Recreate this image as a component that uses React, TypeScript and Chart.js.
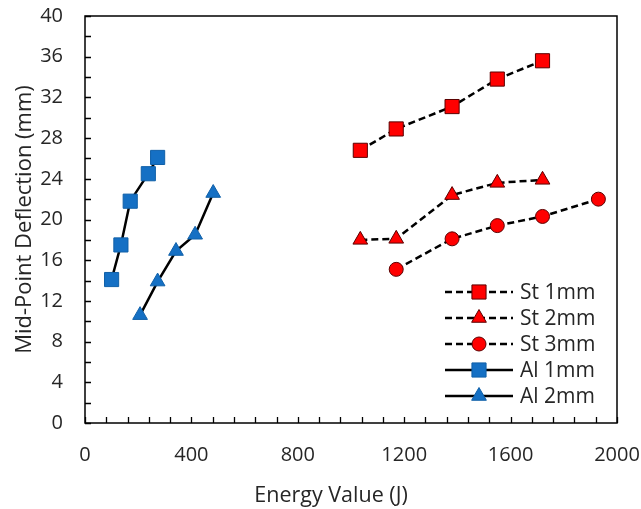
import React, { useEffect, useRef } from "react";
import { Chart, registerables } from "chart.js";

Chart.register(...registerables);

// ---- data ----
const stX = [1035, 1170, 1380, 1550, 1720];
const st1Y = [26.8, 28.9, 31.1, 33.8, 35.6];
const st2Y = [18.0, 18.1, 22.4, 23.6, 23.9];
const st3X = [1170, 1380, 1550, 1720, 1930];
const st3Y = [15.1, 18.1, 19.4, 20.3, 22.0];
const al1X = [100, 135, 170, 238, 273];
const al1Y = [14.1, 17.5, 21.8, 24.5, 26.1];
const al2X = [207, 273, 342, 414, 482];
const al2Y = [10.6, 13.9, 16.9, 18.5, 22.6];

const seriesNames = ["St 1mm", "St 2mm", "St 3mm", "Al 1mm", "Al 2mm"];
const xTitle = "Energy Value (J)";
const yTitle = "Mid-Point Deflection (mm)";
const xTicksMajor = 400;
const yTicksMajor = 4;

const FONT = "'Open Sans', sans-serif";
const TEXT = "#262626";
const RED = "#FF0000";
const RED_EDGE = "#5a0000";
const BLUE = "#1570C4";
const BLUE_EDGE = "#1060A8";

const pts = (xs: number[], ys: number[]) => xs.map((x, i) => ({ x, y: ys[i] }));

function drawMarker(ctx: CanvasRenderingContext2D, style: string, x: number, y: number, r: number) {
  ctx.beginPath();
  if (style === "rect") {
    const s = Math.SQRT1_2 * r;
    ctx.rect(x - s, y - s, 2 * s, 2 * s);
  } else if (style === "triangle") {
    let a = 0;
    ctx.moveTo(x + Math.sin(a) * r, y - Math.cos(a) * r);
    a += (2 * Math.PI) / 3;
    ctx.lineTo(x + Math.sin(a) * r, y - Math.cos(a) * r);
    a += (2 * Math.PI) / 3;
    ctx.lineTo(x + Math.sin(a) * r, y - Math.cos(a) * r);
    ctx.closePath();
  } else {
    ctx.arc(x, y, r, 0, Math.PI * 2);
  }
  ctx.fill();
  ctx.stroke();
}

const framePlugin = {
  id: "frameTicks",
  beforeDatasetsDraw(chart: any) {
    const { ctx, chartArea: a, scales } = chart;
    ctx.save();
    ctx.strokeStyle = "#000";
    ctx.lineWidth = 1.5;
    ctx.strokeRect(a.left, a.top, a.right - a.left, a.bottom - a.top);
    ctx.lineWidth = 1.3;
    ctx.beginPath();
    scales.x.ticks.forEach((t: any) => {
      const px = Math.round(scales.x.getPixelForValue(t.value)) + 0.5;
      ctx.moveTo(px, a.bottom);
      ctx.lineTo(px, a.bottom - 6);
    });
    scales.y.ticks.forEach((t: any) => {
      const py = Math.round(scales.y.getPixelForValue(t.value)) + 0.5;
      ctx.moveTo(a.left, py);
      ctx.lineTo(a.left + 6, py);
    });
    ctx.stroke();
    ctx.restore();
  },
};

const legendPlugin = {
  id: "innerLegend",
  afterDraw(chart: any) {
    const { ctx, chartArea: a } = chart;
    const x0 = a.left + 360;
    const x1 = a.left + 428;
    const xm = (x0 + x1) / 2;
    const y0 = a.top + 276;
    const dy = 26;
    ctx.save();
    chart.data.datasets.forEach((ds: any, i: number) => {
      const y = y0 + i * dy;
      ctx.strokeStyle = ds.borderColor;
      ctx.lineWidth = ds.borderWidth;
      ctx.setLineDash(ds.borderDash || []);
      ctx.beginPath();
      ctx.moveTo(x0, y);
      ctx.lineTo(x1, y);
      ctx.stroke();
      ctx.setLineDash([]);
      ctx.fillStyle = ds.pointBackgroundColor;
      ctx.strokeStyle = ds.pointBorderColor;
      ctx.lineWidth = ds.pointBorderWidth;
      drawMarker(ctx, ds.pointStyle, xm, y, ds.pointRadius);
      ctx.fillStyle = TEXT;
      ctx.font = `21px ${FONT}`;
      ctx.textBaseline = "middle";
      ctx.textAlign = "left";
      ctx.fillText(ds.label, x1 + 7, y + 1);
    });
    // x-axis title, centred as in the reference (slightly left of the plot centre)
    ctx.fillStyle = TEXT;
    ctx.font = `21.5px ${FONT}`;
    ctx.textAlign = "center";
    ctx.textBaseline = "alphabetic";
    ctx.fillText(xTitle, a.left + 246, a.bottom + 79);
    ctx.restore();
  },
};

export default function App() {
  const ref = useRef<HTMLCanvasElement | null>(null);
  useEffect(() => {
    if (!ref.current) return;
    const stStyle = {
      borderColor: "#000",
      borderWidth: 2.5,
      borderDash: [7, 4],
      pointBackgroundColor: RED,
      pointBorderColor: RED_EDGE,
      pointBorderWidth: 1,
      showLine: true,
    };
    const alStyle = {
      borderColor: "#000",
      borderWidth: 2.5,
      borderDash: [],
      pointBackgroundColor: BLUE,
      pointBorderColor: BLUE_EDGE,
      pointBorderWidth: 1,
      showLine: true,
    };
    const chart = new Chart(ref.current, {
      type: "scatter",
      data: {
        datasets: [
          { ...stStyle, label: seriesNames[0], data: pts(stX, st1Y), pointStyle: "rect", pointRadius: 10 },
          { ...stStyle, label: seriesNames[1], data: pts(stX, st2Y), pointStyle: "triangle", pointRadius: 8.5 },
          { ...stStyle, label: seriesNames[2], data: pts(st3X, st3Y), pointStyle: "circle", pointRadius: 7 },
          { ...alStyle, label: seriesNames[3], data: pts(al1X, al1Y), pointStyle: "rect", pointRadius: 10 },
          { ...alStyle, label: seriesNames[4], data: pts(al2X, al2Y), pointStyle: "triangle", pointRadius: 8.5 },
        ] as any,
      },
      plugins: [framePlugin, legendPlugin],
      options: {
        animation: false,
        responsive: false,
        devicePixelRatio: 1,
        layout: { padding: { left: 12, top: 16, right: 24, bottom: 0 } },
        plugins: { legend: { display: false }, tooltip: { enabled: false } },
        scales: {
          x: {
            type: "linear",
            min: 0,
            max: 2000,
            grid: { display: false, drawTicks: false },
            border: { display: false },
            afterFit: (s: any) => {
              s.height = 86;
              s.paddingLeft = 0;
              s.paddingRight = 0;
            },
            ticks: {
              stepSize: 80,
              autoSkip: false,
              maxRotation: 0,
              padding: 20,
              color: TEXT,
              font: { family: FONT, size: 20 },
              callback: (v: any) => (Number(v) % xTicksMajor === 0 ? String(v) : ""),
            },
            title: { display: false },
          },
          y: {
            type: "linear",
            min: 0,
            max: 40,
            grid: { display: false, drawTicks: false },
            border: { display: false },
            afterFit: (s: any) => {
              s.width = 73;
              s.paddingTop = 0;
              s.paddingBottom = 0;
            },
            ticks: {
              stepSize: 2,
              autoSkip: false,
              padding: 22,
              color: TEXT,
              font: { family: FONT, size: 20 },
              callback: (v: any) => (Number(v) % yTicksMajor === 0 ? String(v) : ""),
            },
            title: {
              display: true,
              text: yTitle,
              color: TEXT,
              font: { family: FONT, size: 22 },
              padding: { top: 0, bottom: 0 },
            },
          },
        },
      },
    });
    return () => chart.destroy();
  }, []);
  return (
    <div style={{ position: "fixed", left: 0, top: 0, width: 641, height: 509, background: "#fff" }}>
      <canvas ref={ref} width={641} height={509} />
    </div>
  );
}
